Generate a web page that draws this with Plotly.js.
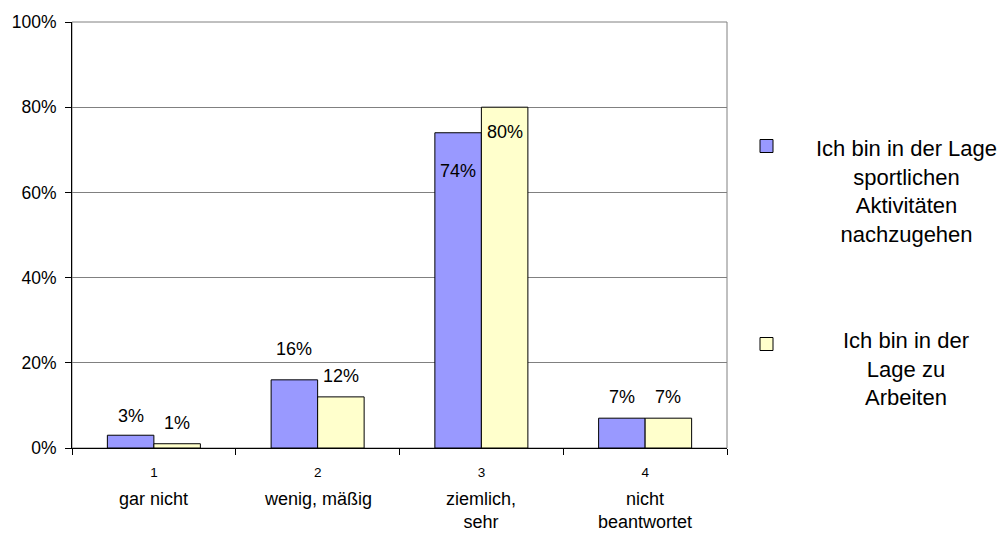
<!DOCTYPE html>
<html>
<head>
<meta charset="utf-8">
<script src="https://cdn.plot.ly/plotly-3.0.1.min.js"></script>
<style>html,body{margin:0;padding:0;background:#fff;}#chart{width:1004px;height:534px;}</style>
</head>
<body>
<div id="chart"></div>
<script>
// ---- data ----
var categories = ["1", "2", "3", "4"];
var categoryNames = ["gar nicht", "wenig, mäßig", "ziemlich,<br>sehr", "nicht<br>beantwortet"];
var seriesNames = ["Ich bin in der Lage<br>sportlichen<br>Aktivitäten<br>nachzugehen", "Ich bin in der<br>Lage zu<br>Arbeiten"];
var sportValues = [0.03, 0.16, 0.74, 0.07];
var arbeitValues = [0.01, 0.12, 0.80, 0.07];
var yTickVals = [0, 0.2, 0.4, 0.6, 0.8, 1.0];

// ---- styles ----
var FONT = '"Liberation Sans", Arial, sans-serif';
var colors = ["#9999FF", "#FFFFCC"];
var seriesValues = [sportValues, arbeitValues];

var traces = seriesValues.map(function (vals, s) {
  return {
    type: "bar",
    x: categories,
    y: vals,
    name: seriesNames[s],
    marker: {color: colors[s], line: {color: "#000000", width: 1}},
    showlegend: false,
    hoverinfo: "skip"
  };
});

// label pixel offsets (label centre relative to bar top), by series / category
var labelOffsets = [[19, 31, -38, 21], [21, 21, -25, 21]];
var annotations = [];
seriesValues.forEach(function (vals, s) {
  vals.forEach(function (v, i) {
    annotations.push({
      x: i, y: v, xref: "x", yref: "y",
      text: Math.round(v * 100) + "%",
      showarrow: false,
      xshift: s === 0 ? -23.25 : 23.25,
      yshift: labelOffsets[s][i],
      font: {family: FONT, size: 18, color: "#000"}
    });
  });
});
categoryNames.forEach(function (n, i) {
  annotations.push({
    x: i, y: 0, xref: "x", yref: "paper",
    yanchor: "top", text: n, showarrow: false,
    yshift: -39,
    font: {family: FONT, size: 18, color: "#000"}
  });
});
// legend (manual, centred multi-line text)
var legendY = [0.603, 0.185];
var legendBoxY = [(448 - 146) / 426, (448 - 344) / 426];
var shapes = [{
  type: "rect", xref: "paper", yref: "paper", x0: 0, x1: 1, y0: 0, y1: 1,
  line: {color: "#808080", width: 1}, layer: "below"
}];
seriesNames.forEach(function (n, s) {
  annotations.push({
    x: (906 - 72) / 655, y: legendY[s], xref: "paper", yref: "paper",
    xanchor: "center", yanchor: "middle", align: "center",
    text: n, showarrow: false,
    font: {family: FONT, size: 22, color: "#000"}
  });
  shapes.push({
    type: "rect", xref: "paper", yref: "paper",
    x0: (760 - 72) / 655, x1: (773 - 72) / 655,
    y0: legendBoxY[s] - 6.5 / 426, y1: legendBoxY[s] + 6.5 / 426,
    fillcolor: colors[s], line: {color: "#000", width: 1}
  });
});

var layout = {
  width: 1004, height: 534,
  margin: {l: 72, r: 277, t: 22, b: 86},
  paper_bgcolor: "#fff", plot_bgcolor: "#fff",
  barmode: "group", bargap: 0.432, bargroupgap: 0,
  font: {family: FONT, color: "#000"},
  xaxis: {
    type: "category", tickson: "boundaries",
    ticks: "outside", ticklen: 6, tickcolor: "#000", tickwidth: 1,
    showline: true, linecolor: "#000", linewidth: 1,
    showgrid: false, zeroline: false,
    tickfont: {family: FONT, size: 13.5, color: "#000"},
    ticklabelstandoff: 12,
    fixedrange: true
  },
  yaxis: {
    range: [0, 1], tickvals: yTickVals, tickformat: ".0%",
    ticks: "outside", ticklen: 6, tickcolor: "#000", tickwidth: 1,
    showline: true, linecolor: "#000", linewidth: 1,
    showgrid: true, gridcolor: "#808080", gridwidth: 1,
    zeroline: false,
    tickfont: {family: FONT, size: 17.5, color: "#000"},
    ticklabelstandoff: 5,
    fixedrange: true
  },
  annotations: annotations,
  shapes: shapes
};

Plotly.newPlot("chart", traces, layout, {displayModeBar: false, staticPlot: true});
</script>
</body>
</html>
